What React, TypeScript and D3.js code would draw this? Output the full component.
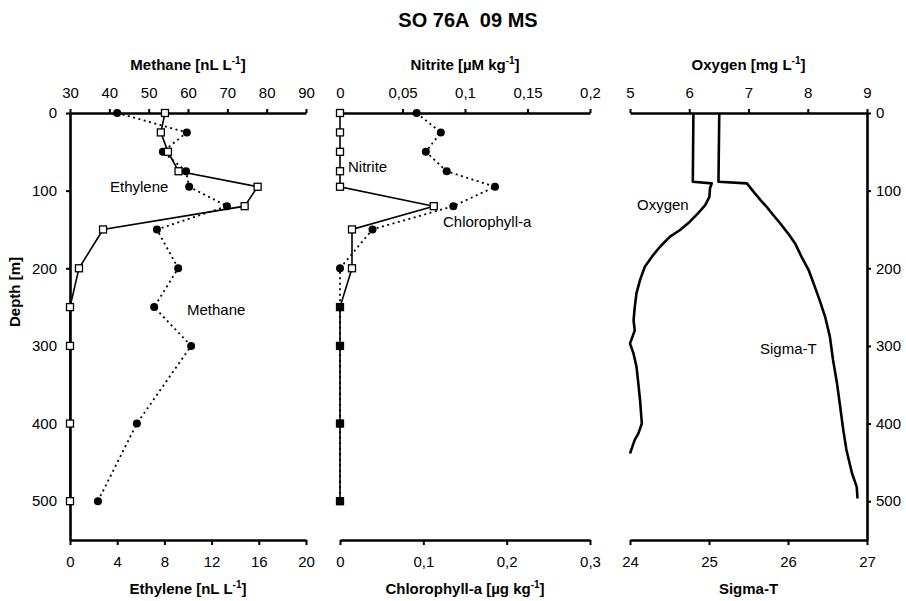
import React, { useEffect, useRef } from "react";
import * as d3 from "d3";

// Panel 1 & 2 sampling depths [m]
const sampleDepths = [0, 25, 50, 75, 95, 120, 150, 200, 250, 300, 400, 500];
const methane = [42, 59.7, 53.6, 59.5, 60.3, 69.9, 52.1, 57.5, 51.4, 60.8, 47, 37.1];
const ethylene = [8.05, 7.7, 8.3, 9.2, 15.9, 14.8, 2.8, 0.76, 0, 0, 0, 0];
const nitrite = [0, 0, 0, 0, 0, 0.075, 0.0096, 0.0096, 0, 0, 0, 0];
const chlorophyll = [0.092, 0.121, 0.103, 0.128, 0.186, 0.136, 0.039, 0, 0, 0, 0, 0];

// CTD profiles
const oxygenDepth = [0, 88.5, 90.6, 97, 108, 118.6, 129, 140, 151, 159, 172, 185, 198, 215, 232, 250, 267, 280, 297, 310, 327, 348, 370, 400, 413, 421, 432, 438.6];
const oxygenValue = [6.07, 6.06, 6.38, 6.35, 6.34, 6.27, 6.15, 6.01, 5.84, 5.68, 5.51, 5.37, 5.25, 5.17, 5.11, 5.08, 5.06, 5.08, 5.0, 5.06, 5.11, 5.14, 5.17, 5.2, 5.14, 5.08, 5.03, 5.0];
const sigmaDepth = [0, 88.5, 90.6, 101, 112, 121, 131, 142, 155, 168, 185, 202, 224, 241, 262.5, 288, 318, 348, 378, 408.5, 434, 464, 481.5, 496.5];
const sigmaValue = [25.13, 25.12, 25.48, 25.56, 25.65, 25.73, 25.81, 25.9, 26.0, 26.09, 26.17, 26.26, 26.34, 26.4, 26.47, 26.53, 26.57, 26.62, 26.66, 26.7, 26.74, 26.81, 26.87, 26.88];

// tick values
const depthTicks = [0, 100, 200, 300, 400, 500];
const methaneTicks = [30, 40, 50, 60, 70, 80, 90];
const ethyleneTicks = [0, 4, 8, 12, 16, 20];
const nitriteTicks = [0, 0.05, 0.1, 0.15, 0.2];
const chlTicks = [0, 0.1, 0.2, 0.3];
const oxygenTicks = [5, 6, 7, 8, 9];
const sigmaTicks = [24, 25, 26, 27];

const FONT = "'Liberation Sans', Arial, sans-serif";
const comma = (v: number) => String(v).replace(".", ",");

export default function App() {
  const ref = useRef<SVGSVGElement | null>(null);

  useEffect(() => {
    const svg = d3.select(ref.current);
    svg.selectAll("*").remove();
    const W = 906, H = 601;
    svg.attr("width", W).attr("height", H).style("font-family", FONT);

    const y = d3.scaleLinear().domain([0, 550]).range([113, 540]);
    const yTop = y(0), yBot = y(550);

    const styleAxis = (g: any) => {
      g.select(".domain").attr("stroke", "#000").attr("stroke-width", 2.6);
      g.selectAll(".tick line").attr("stroke", "#000").attr("stroke-width", 2);
      g.selectAll(".tick text").attr("fill", "#000").style("font-size", "15px").style("font-family", FONT);
    };

    const panels = [
      { x0: 70, x1: 306, top: [30, 90], bot: [0, 20], topTicks: methaneTicks, botTicks: ethyleneTicks, topFmt: (v: number) => String(v), botFmt: (v: number) => String(v), topTitle: "Methane [nL L", topSup: "-1", botTitle: "Ethylene [nL L", botSup: "-1" },
      { x0: 340, x1: 590, top: [0, 0.2], bot: [0, 0.3], topTicks: nitriteTicks, botTicks: chlTicks, topFmt: comma, botFmt: comma, topTitle: "Nitrite [µM kg", topSup: "-1", botTitle: "Chlorophyll-a [µg kg", botSup: "-1" },
      { x0: 630, x1: 867, top: [5, 9], bot: [24, 27], topTicks: oxygenTicks, botTicks: sigmaTicks, topFmt: (v: number) => String(v), botFmt: (v: number) => String(v), topTitle: "Oxygen [mg L", topSup: "-1", botTitle: "Sigma-T", botSup: "" },
    ];

    const scales = panels.map((p) => {
      const xt = d3.scaleLinear().domain(p.top).range([p.x0, p.x1]);
      const xb = d3.scaleLinear().domain(p.bot).range([p.x0, p.x1]);
      svg.append("g").attr("transform", `translate(0,${yTop})`)
        .call(d3.axisTop(xt).tickValues(p.topTicks).tickFormat(p.topFmt as any).tickSize(4).tickSizeOuter(0).tickPadding(11))
        .call(styleAxis);
      svg.append("g").attr("transform", `translate(0,${yBot})`)
        .call(d3.axisBottom(xb).tickValues(p.botTicks).tickFormat(p.botFmt as any).tickSize(5).tickSizeOuter(0).tickPadding(11))
        .call(styleAxis);
      const cx = (p.x0 + p.x1) / 2;
      const tt = svg.append("text").attr("x", cx).attr("y", 70).attr("text-anchor", "middle")
        .style("font-size", "15px").style("font-weight", "bold");
      tt.append("tspan").text(p.topTitle);
      if (p.topSup) {
        tt.append("tspan").attr("dy", -6).style("font-size", "10px").text(p.topSup);
        tt.append("tspan").attr("dy", 6).text("]");
      }
      const bt = svg.append("text").attr("x", cx).attr("y", 594).attr("text-anchor", "middle")
        .style("font-size", "15px").style("font-weight", "bold");
      bt.append("tspan").text(p.botTitle);
      if (p.botSup) {
        bt.append("tspan").attr("dy", -6).style("font-size", "10px").text(p.botSup);
        bt.append("tspan").attr("dy", 6).text("]");
      }
      return { xt, xb };
    });

    // depth axes
    svg.append("g").attr("transform", `translate(70,0)`)
      .call(d3.axisLeft(y).tickValues(depthTicks).tickSize(4).tickSizeOuter(0).tickPadding(9))
      .call(styleAxis);
    svg.append("g").attr("transform", `translate(867,0)`)
      .call(d3.axisRight(y).tickValues(depthTicks).tickSize(4).tickSizeOuter(0).tickPadding(5))
      .call(styleAxis);

    svg.append("text").attr("transform", "translate(20,292) rotate(-90)").attr("text-anchor", "middle")
      .style("font-size", "15px").style("font-weight", "bold").text("Depth [m]");

    svg.append("text").attr("x", 468).attr("y", 27).attr("text-anchor", "middle")
      .style("font-size", "20px").style("font-weight", "bold").style("white-space", "pre")
      .attr("xml:space", "preserve").text("SO 76A  09 MS");

    const idx = d3.range(sampleDepths.length);

    const drawDotted = (xs: any, vals: number[]) => {
      const line = d3.line<number>().x((i) => xs(vals[i])).y((i) => y(sampleDepths[i]));
      svg.append("path").attr("d", line(idx)).attr("fill", "none").attr("stroke", "#000")
        .attr("stroke-width", 1.8).attr("stroke-dasharray", "2,3.5");
    };
    const drawSolid = (xs: any, vals: number[]) => {
      const line = d3.line<number>().x((i) => xs(vals[i])).y((i) => y(sampleDepths[i]));
      svg.append("path").attr("d", line(idx)).attr("fill", "none").attr("stroke", "#000").attr("stroke-width", 1.6);
    };
    const drawCircles = (xs: any, vals: number[]) => {
      svg.append("g").selectAll("circle").data(idx).join("circle")
        .attr("cx", (i) => xs(vals[i])).attr("cy", (i) => y(sampleDepths[i])).attr("r", 4).attr("fill", "#000");
    };
    const drawSquares = (xs: any, vals: number[]) => {
      svg.append("g").selectAll("rect").data(idx).join("rect")
        .attr("x", (i) => xs(vals[i]) - 3.5).attr("y", (i) => y(sampleDepths[i]) - 3.5)
        .attr("width", 7).attr("height", 7).attr("fill", "#fff").attr("stroke", "#000").attr("stroke-width", 1.3);
    };

    // Panel 1: methane (top, circles, dotted), ethylene (bottom, squares, solid)
    drawDotted(scales[0].xt, methane);
    drawCircles(scales[0].xt, methane);
    drawSolid(scales[0].xb, ethylene);
    drawSquares(scales[0].xb, ethylene);

    // Panel 2: nitrite (top, squares, solid), chlorophyll-a (bottom, circles, dotted)
    drawSolid(scales[1].xt, nitrite);
    drawSquares(scales[1].xt, nitrite);
    drawDotted(scales[1].xb, chlorophyll);
    drawCircles(scales[1].xb, chlorophyll);

    // Panel 3: oxygen & sigma-T profiles
    const oIdx = d3.range(oxygenDepth.length);
    const sIdx = d3.range(sigmaDepth.length);
    svg.append("path")
      .attr("d", d3.line<number>().x((i) => scales[2].xt(oxygenValue[i])).y((i) => y(oxygenDepth[i]))(oIdx))
      .attr("fill", "none").attr("stroke", "#000").attr("stroke-width", 2.6).attr("stroke-linejoin", "round");
    svg.append("path")
      .attr("d", d3.line<number>().x((i) => scales[2].xb(sigmaValue[i])).y((i) => y(sigmaDepth[i]))(sIdx))
      .attr("fill", "none").attr("stroke", "#000").attr("stroke-width", 2.6).attr("stroke-linejoin", "round");

    const label = (x: number, yy: number, t: string) =>
      svg.append("text").attr("x", x).attr("y", yy).style("font-size", "15px").attr("fill", "#000").text(t);
    label(110, 192, "Ethylene");
    label(187, 315, "Methane");
    label(348, 172, "Nitrite");
    label(443, 227, "Chlorophyll-a");
    label(637, 210, "Oxygen");
    label(760, 354, "Sigma-T");
  }, []);

  return <svg ref={ref} style={{ display: "block", position: "absolute", left: 0, top: 0 }} />;
}
